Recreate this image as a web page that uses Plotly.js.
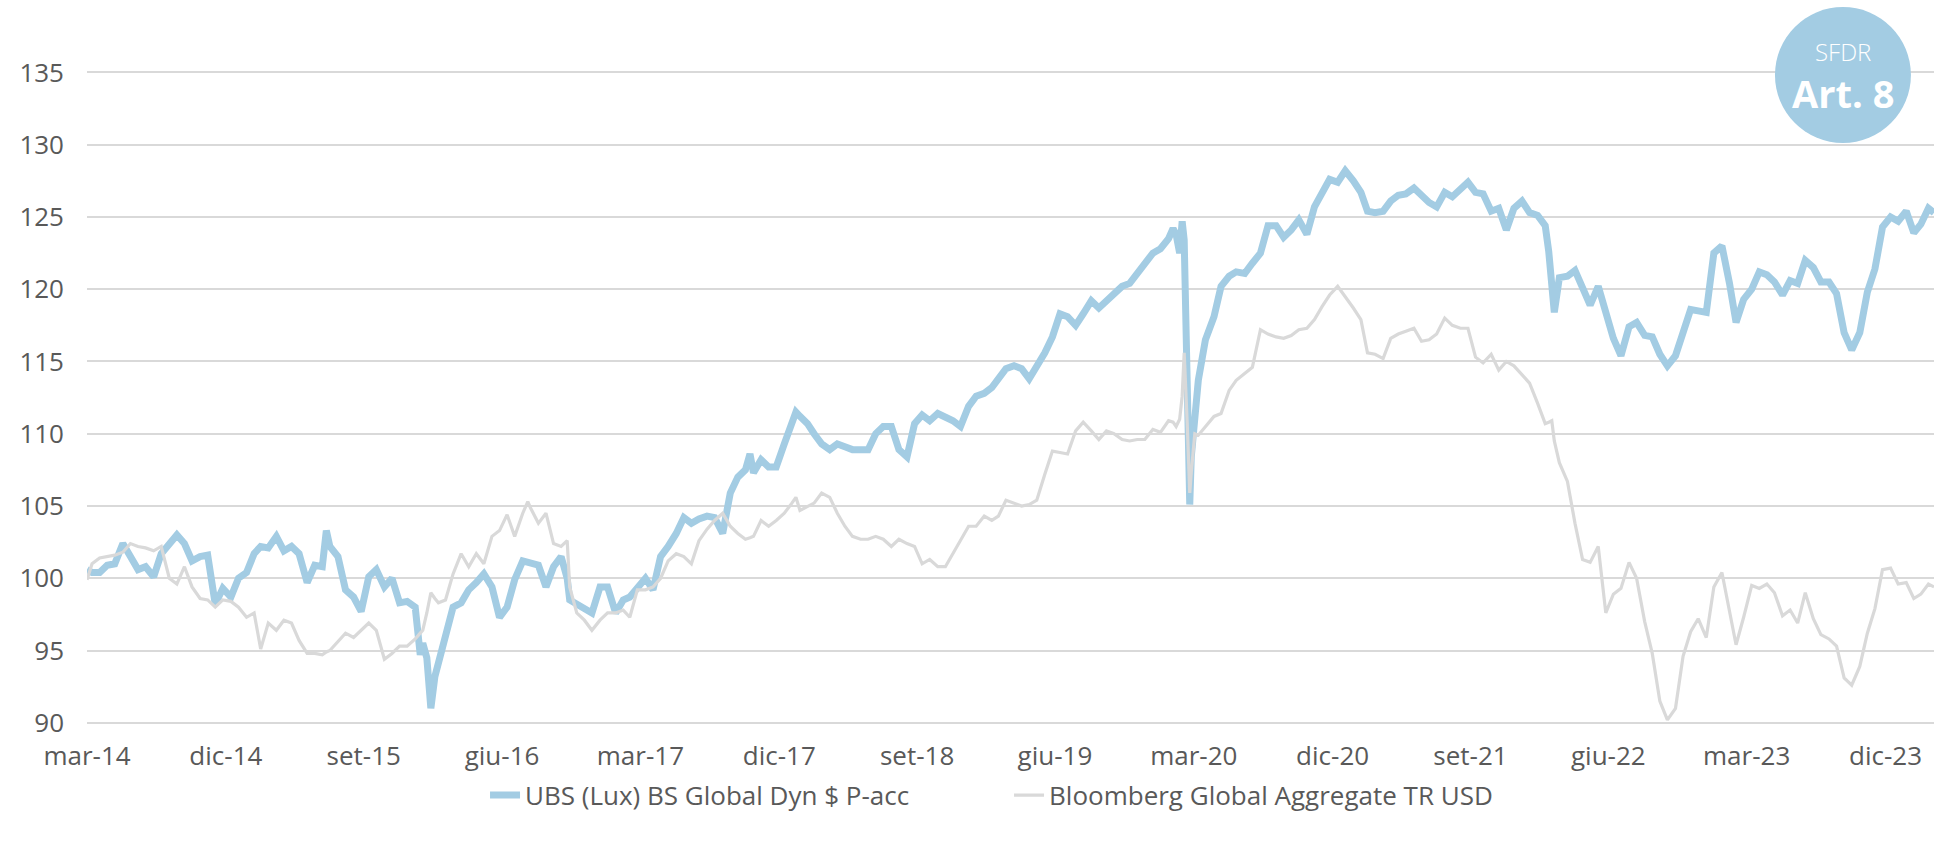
<!DOCTYPE html>
<html><head><meta charset="utf-8">
<script src="https://cdn.plot.ly/plotly-3.0.1.min.js"></script>
<style>html,body{margin:0;padding:0;background:#fff;}#chart{width:1944px;height:848px;}</style>
</head><body><div id="chart"></div>
<script>
const dates = [
'2014-03-31','2014-04-10','2014-04-25','2014-05-10','2014-05-25','2014-06-10','2014-06-25','2014-07-10','2014-07-25','2014-08-10','2014-08-25','2014-09-10','2014-09-25','2014-10-10','2014-10-25','2014-11-10','2014-11-25','2014-12-10','2014-12-25',
'2015-01-10','2015-01-25','2015-02-10','2015-02-25','2015-03-10','2015-03-25','2015-04-10','2015-04-25','2015-05-10','2015-05-25','2015-06-10','2015-06-25','2015-07-10','2015-07-18','2015-07-25','2015-08-10','2015-08-25','2015-09-10','2015-09-25','2015-10-10','2015-10-25','2015-11-10','2015-11-25','2015-12-10','2015-12-25',
'2016-01-10','2016-01-20','2016-01-25','2016-02-02','2016-02-10','2016-02-18','2016-02-25','2016-03-10','2016-03-25','2016-04-10','2016-04-25','2016-05-10','2016-05-25','2016-06-10','2016-06-25','2016-07-10','2016-07-25','2016-08-10','2016-08-20','2016-08-25','2016-09-10','2016-09-25','2016-10-10','2016-10-25','2016-11-06','2016-11-11','2016-11-25','2016-12-10','2016-12-25',
'2017-01-10','2017-01-25','2017-02-10','2017-02-25','2017-03-10','2017-03-25','2017-04-10','2017-04-25','2017-05-10','2017-05-25','2017-06-10','2017-06-25','2017-07-10','2017-07-25','2017-08-10','2017-08-25','2017-09-10','2017-09-25','2017-10-10','2017-10-25','2017-11-03','2017-11-10','2017-11-25','2017-12-10','2017-12-25',
'2018-01-10','2018-01-25','2018-02-02','2018-02-10','2018-02-25','2018-03-10','2018-03-25','2018-04-10','2018-04-25','2018-05-10','2018-05-25','2018-06-10','2018-06-25','2018-07-10','2018-07-25','2018-08-10','2018-08-25','2018-09-10','2018-09-25','2018-10-10','2018-10-25','2018-11-10','2018-11-25','2018-12-10','2018-12-25',
'2019-01-10','2019-01-25','2019-02-10','2019-02-25','2019-03-10','2019-03-25','2019-04-10','2019-04-25','2019-05-10','2019-05-25','2019-06-10','2019-06-25','2019-07-10','2019-07-25','2019-08-10','2019-08-25','2019-09-10','2019-09-25','2019-10-10','2019-10-25','2019-11-10','2019-11-25','2019-12-10','2019-12-25',
'2020-01-10','2020-01-25','2020-02-10','2020-02-19','2020-02-25','2020-03-03','2020-03-08','2020-03-12','2020-03-18','2020-03-23','2020-03-26','2020-04-02','2020-04-09','2020-04-23','2020-05-10','2020-05-24','2020-06-09','2020-06-23','2020-07-10','2020-07-25','2020-08-10','2020-08-25','2020-09-10','2020-09-25','2020-10-10','2020-10-25','2020-11-10','2020-11-25','2020-12-10','2020-12-25',
'2021-01-10','2021-01-25','2021-02-10','2021-02-25','2021-03-10','2021-03-25','2021-04-10','2021-04-25','2021-05-10','2021-05-25','2021-06-10','2021-06-25','2021-07-10','2021-07-25','2021-08-10','2021-08-25','2021-09-10','2021-09-25','2021-10-10','2021-10-25','2021-11-10','2021-11-25','2021-12-10','2021-12-25',
'2022-01-10','2022-01-25','2022-02-10','2022-02-25','2022-03-04','2022-03-10','2022-03-15','2022-03-25','2022-04-10','2022-04-25','2022-05-10','2022-05-25','2022-06-10','2022-06-25','2022-07-10','2022-07-25','2022-08-10','2022-08-25','2022-09-10','2022-09-25','2022-10-10','2022-10-25','2022-11-10','2022-11-25','2022-12-10','2022-12-25',
'2023-01-10','2023-01-25','2023-02-10','2023-02-25','2023-03-10','2023-03-25','2023-04-10','2023-04-25','2023-05-10','2023-05-25','2023-06-10','2023-06-25','2023-07-10','2023-07-25','2023-08-10','2023-08-25','2023-09-10','2023-09-25','2023-10-10','2023-10-25','2023-11-10','2023-11-25','2023-12-10','2023-12-25',
'2024-01-10','2024-01-25','2024-02-10','2024-02-25','2024-03-10','2024-03-25','2024-04-05'
];
const fundValues = [
100.6,100.4,100.4,100.9,101.0,102.4,101.5,100.6,100.8,100.1,101.7,102.4,103.0,102.4,101.2,101.5,101.6,98.2,99.3,
98.7,100.0,100.4,101.7,102.2,102.1,102.9,101.9,102.2,101.7,99.7,100.9,100.8,103.3,102.2,101.5,99.2,98.7,97.7,100.1,100.6,99.4,100.0,98.3,98.4,
98.0,94.7,95.5,94.5,91.0,93.2,94.2,95.7,98.0,98.3,99.2,99.7,100.3,99.4,97.3,98.0,99.9,101.2,101.1,101.0,100.9,99.4,100.8,101.5,100.0,98.5,98.2,97.9,97.6,
99.4,99.4,97.6,98.5,98.7,99.3,100.0,99.2,101.5,102.2,103.1,104.2,103.8,104.1,104.3,104.2,103.1,105.9,107.0,107.5,108.6,107.3,108.2,107.7,107.7,
109.3,110.7,111.5,111.2,110.7,110.0,109.3,108.9,109.3,109.1,108.9,108.9,108.9,110.0,110.5,110.5,108.9,108.4,110.7,111.3,110.9,111.4,111.2,110.9,110.5,
111.9,112.6,112.8,113.2,113.9,114.5,114.7,114.5,113.8,114.6,115.6,116.7,118.3,118.1,117.5,118.3,119.2,118.7,119.2,119.6,120.2,120.4,121.1,121.9,
122.5,122.8,123.5,124.2,123.8,122.5,124.7,123.4,114.2,105.1,108.4,111.4,113.7,116.5,118.1,120.2,120.9,121.2,121.1,121.8,122.5,124.4,124.4,123.6,124.1,124.8,123.8,125.7,126.6,127.6,
127.4,128.2,127.5,126.7,125.4,125.3,125.4,126.1,126.5,126.6,127.0,126.5,126.0,125.7,126.7,126.4,127.0,127.4,126.7,126.6,125.4,125.6,124.1,125.6,
126.1,125.3,125.1,124.4,122.6,119.7,118.4,120.8,120.9,121.3,120.0,118.9,120.2,118.4,116.6,115.4,117.4,117.7,116.8,116.7,115.5,114.7,115.4,117.0,118.6,118.5,
118.4,122.5,123.0,120.4,117.7,119.3,120.0,121.2,121.0,120.5,119.6,120.6,120.4,122.0,121.5,120.5,120.5,119.7,117.0,115.8,117.0,119.8,121.4,124.3,
125.0,124.7,125.4,123.9,124.5,125.6,125.3
];
const benchmarkValues = [
99.9,101.0,101.4,101.5,101.6,101.8,102.4,102.2,102.1,101.9,102.2,100.0,99.6,100.8,99.4,98.6,98.5,98.0,98.5,
98.4,98.0,97.3,97.6,95.1,96.9,96.4,97.1,96.9,95.7,94.8,94.8,94.7,94.9,95.0,95.6,96.2,95.9,96.4,96.9,96.4,94.4,94.8,95.3,95.3,
95.8,96.2,96.4,97.6,99.0,98.6,98.3,98.5,100.3,101.7,100.8,101.7,101.0,102.9,103.3,104.4,102.9,104.5,105.3,104.9,103.8,104.5,102.4,102.2,102.6,99.4,97.6,97.1,96.4,
97.1,97.6,97.6,97.8,97.3,99.2,99.2,99.4,100.0,101.2,101.7,101.5,101.0,102.6,103.4,104.0,104.5,103.6,103.1,102.7,102.8,102.9,104.0,103.6,104.0,
104.5,105.2,105.6,104.7,105.0,105.2,105.9,105.6,104.5,103.6,102.9,102.7,102.7,102.9,102.7,102.2,102.7,102.4,102.2,101.0,101.3,100.8,100.8,101.7,102.6,
103.6,103.6,104.3,104.0,104.3,105.4,105.2,105.0,105.1,105.4,107.2,108.8,108.7,108.6,110.2,110.8,110.2,109.6,110.2,110.0,109.6,109.5,109.6,109.6,
110.3,110.1,110.9,110.8,110.5,111.0,112.6,115.6,110.7,105.9,107.3,110.0,109.9,110.5,111.2,111.4,113.0,113.7,114.2,114.6,117.2,116.9,116.7,116.6,116.8,117.2,117.3,117.9,118.8,119.6,
120.2,119.5,118.7,117.9,115.6,115.5,115.2,116.6,116.9,117.1,117.3,116.4,116.5,116.9,118.0,117.5,117.3,117.3,115.3,114.9,115.5,114.4,115.0,114.7,
114.1,113.5,112.1,110.7,110.8,110.9,109.5,108.0,106.7,103.8,101.3,101.1,102.2,97.6,98.9,99.3,101.1,100.0,97.0,94.8,91.5,90.2,91.0,94.6,96.3,97.2,
95.9,99.4,100.4,97.6,95.4,97.3,99.5,99.3,99.6,99.0,97.4,97.8,96.9,99.0,97.2,96.1,95.8,95.3,93.1,92.6,93.9,96.2,97.9,100.6,
100.7,99.6,99.7,98.6,98.9,99.6,99.4
];
const seriesNames = ['UBS (Lux) BS Global Dyn $ P-acc', 'Bloomberg Global Aggregate TR USD'];
const tickDates = ['2014-03-31','2014-12-31','2015-09-30','2016-06-30','2017-03-31','2017-12-31','2018-09-30','2019-06-30','2020-03-31','2020-12-31','2021-09-30','2022-06-30','2023-03-31','2023-12-31'];
const tickLabels = ['mar-14','dic-14','set-15','giu-16','mar-17','dic-17','set-18','giu-19','mar-20','dic-20','set-21','giu-22','mar-23','dic-23'];
const yTicks = [90,95,100,105,110,115,120,125,130,135];
const badgeTop = 'SFDR';
const badgeMain = 'Art. 8';

const BLUE = '#A3CCE3';
const GREY = '#D9D9D9';
const TXT = '#595959';
const FONT = 'Open Sans, sans-serif';

const traces = [
  {x: dates, y: fundValues, name: seriesNames[0], type: 'scatter', mode: 'lines',
   line: {color: BLUE, width: 7}},
  {x: dates, y: benchmarkValues, name: seriesNames[1], type: 'scatter', mode: 'lines',
   line: {color: GREY, width: 3.2}}
];

const layout = {
  width: 1944, height: 848,
  margin: {l: 87, r: 10, t: 58, b: 118},
  paper_bgcolor: '#fff', plot_bgcolor: '#fff',
  font: {family: FONT, color: TXT, size: 26},
  showlegend: true,
  legend: {orientation: 'h', x: 0.2155, xanchor: 'left', y: -0.097, yanchor: 'middle',
           entrywidth: 479, entrywidthmode: 'pixels',
           font: {size: 26, color: TXT, family: FONT}, traceorder: 'normal'},
  xaxis: {type: 'date', range: ['2014-03-31', '2024-04-05'], tickmode: 'array',
          tickvals: tickDates, ticktext: tickLabels, showgrid: false, zeroline: false,
          showline: false, ticks: '', tickfont: {size: 26, color: TXT}, ticklabelstandoff: 8},
  yaxis: {range: [89.5, 136], tickmode: 'array', tickvals: yTicks, showgrid: true,
          gridcolor: GREY, gridwidth: 2, zeroline: false, showline: false, ticks: '',
          tickfont: {size: 26, color: TXT}, ticklabelstandoff: 22},
  shapes: [
    {type: 'circle', xref: 'paper', yref: 'paper', x0: 0.9139, x1: 0.9875, y0: 0.8735, y1: 1.0759,
     fillcolor: BLUE, line: {width: 0}, layer: 'above'}
  ],
  annotations: [
    {text: badgeTop, xref: 'paper', yref: 'paper', x: 0.9507, y: 1.009, showarrow: false,
     xanchor: 'center', yanchor: 'middle', font: {size: 24, color: '#ffffff', family: FONT, weight: 300}},
    {text: '<b>' + badgeMain + '</b>', xref: 'paper', yref: 'paper', x: 0.9507, y: 0.948, showarrow: false,
     xanchor: 'center', yanchor: 'middle', font: {size: 38, color: '#ffffff', family: FONT}}
  ]
};

Plotly.newPlot('chart', traces, layout, {displayModeBar: false, staticPlot: true});
</script>
</body></html>
